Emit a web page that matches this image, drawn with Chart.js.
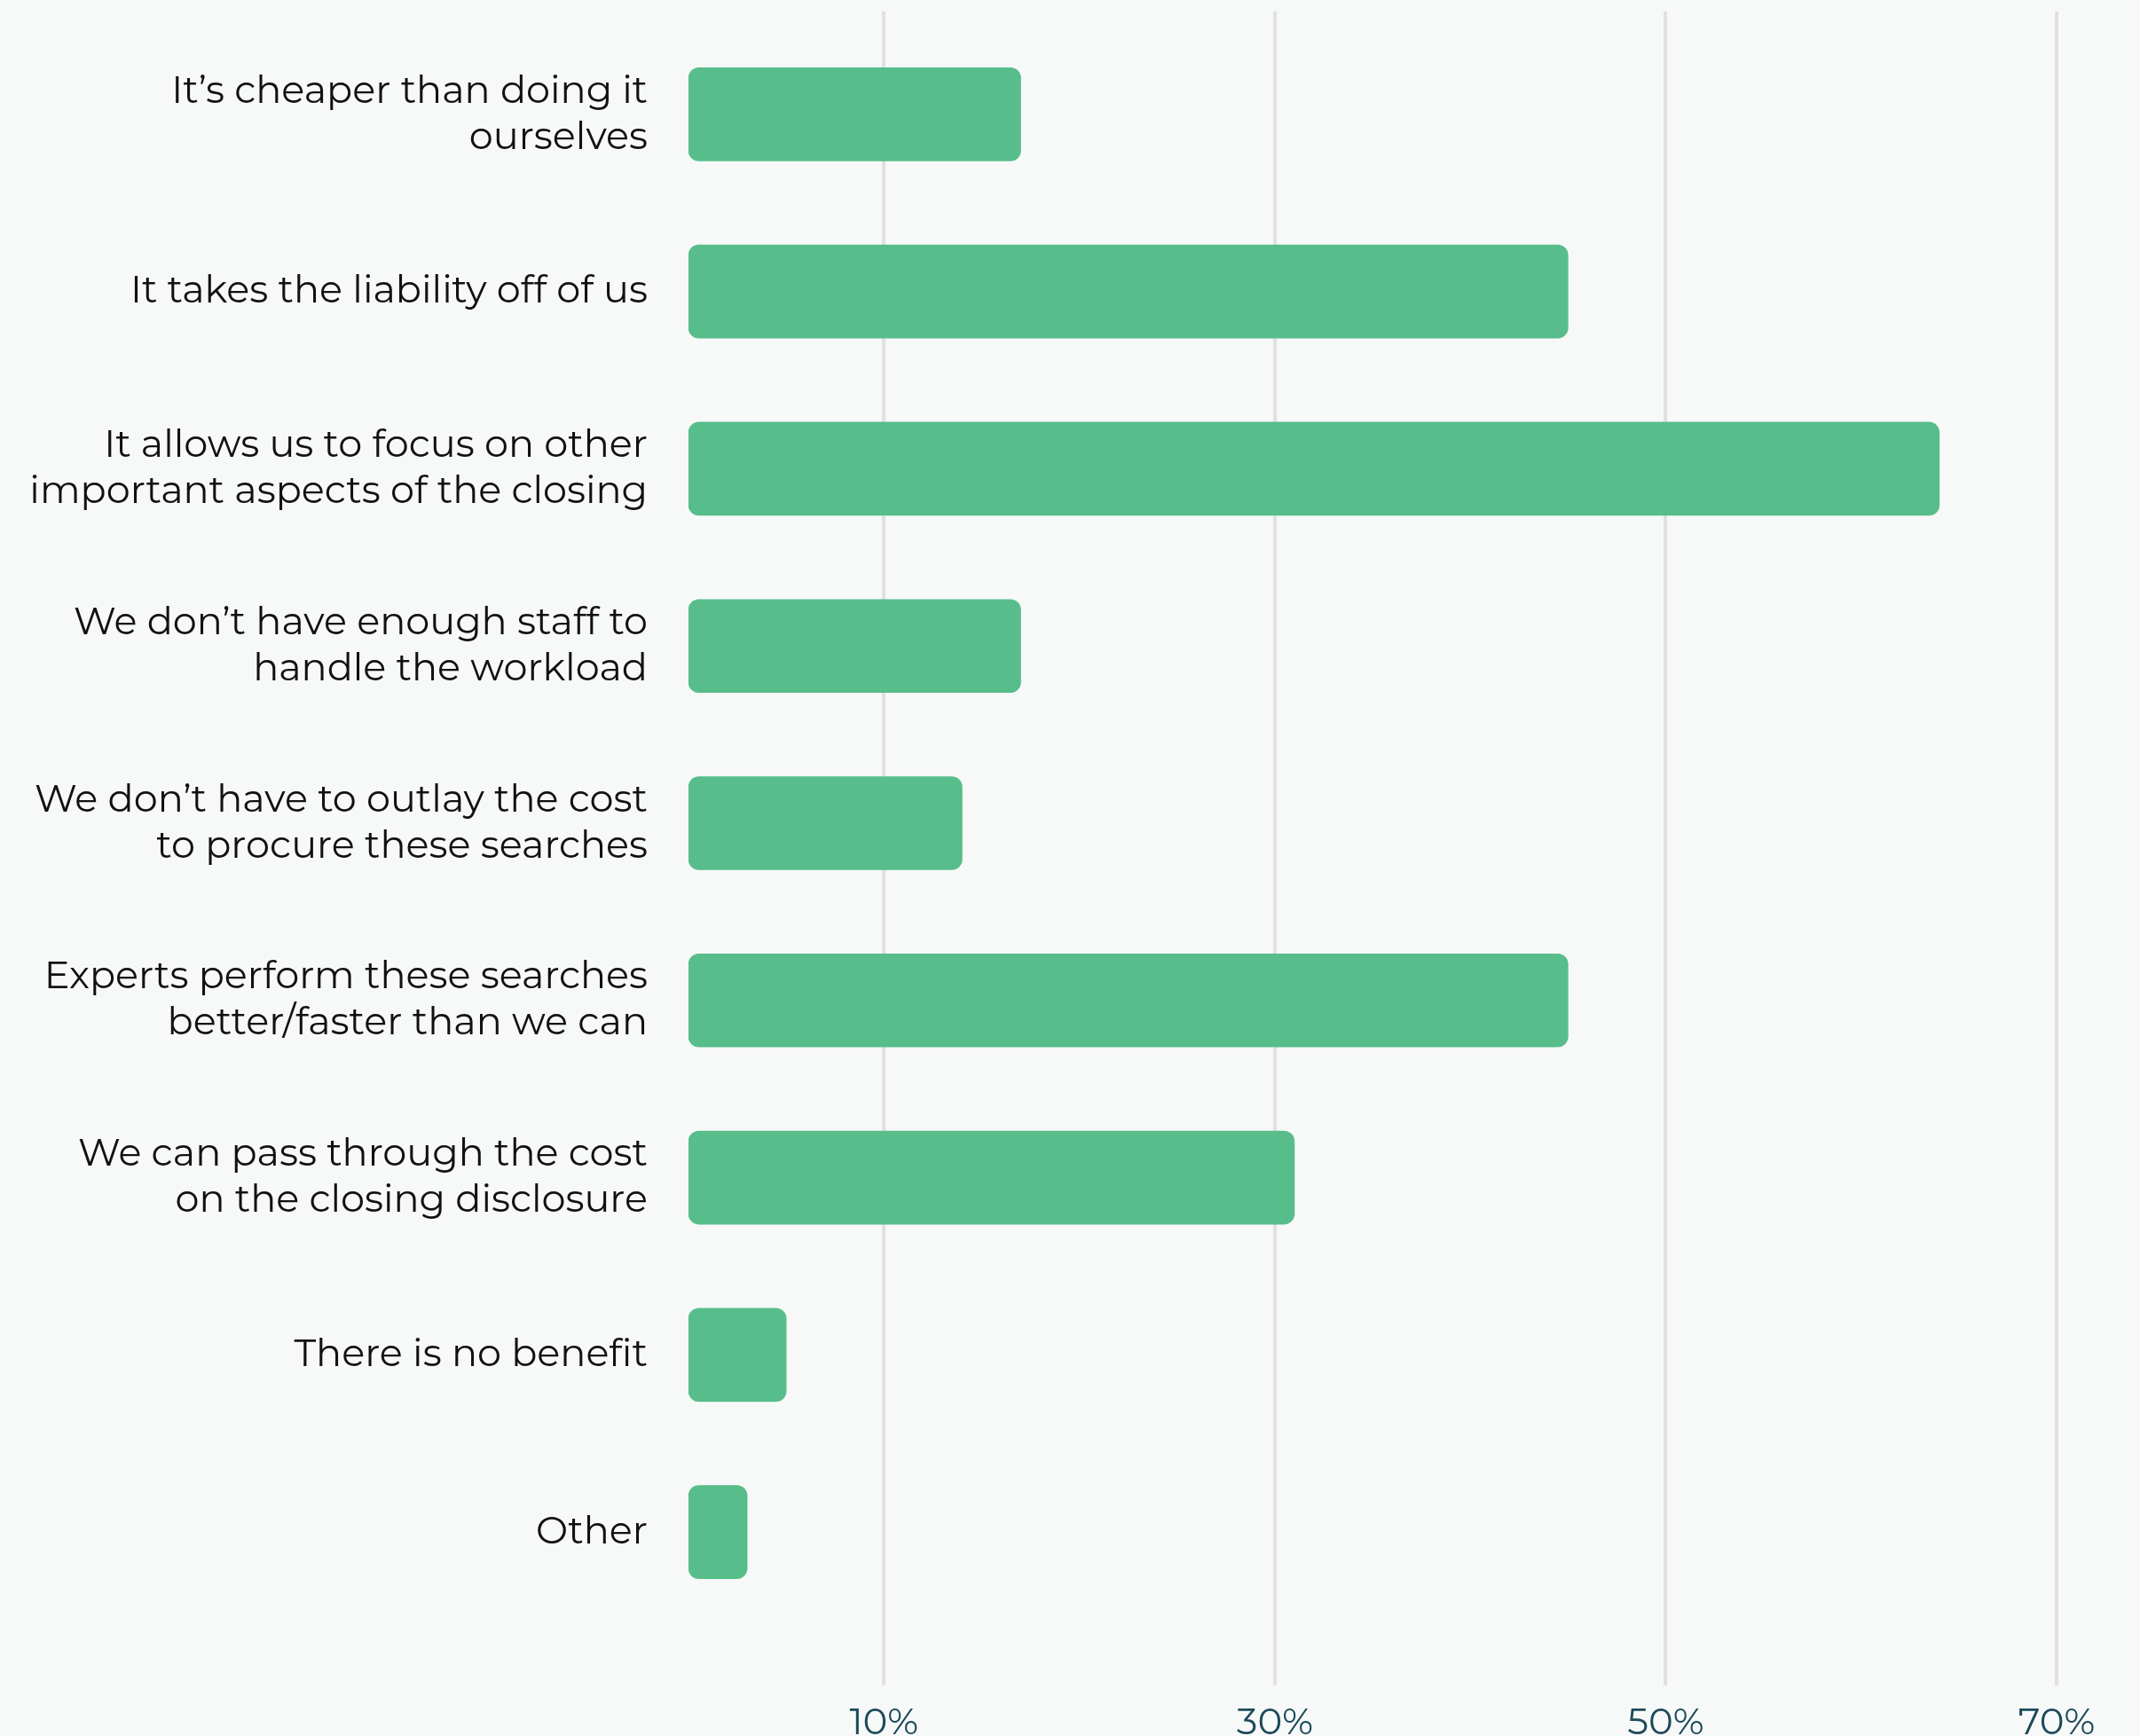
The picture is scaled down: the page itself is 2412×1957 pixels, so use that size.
<!DOCTYPE html>
<html>
<head>
<meta charset="utf-8">
<script src="https://cdn.jsdelivr.net/npm/chart.js@4"></script>
<style>
  html, body { margin: 0; padding: 0; background: #f7f9f8; }
  #wrap { width: 2412px; height: 1957px; }
</style>
</head>
<body>
<div id="wrap"><canvas id="benefitChart"></canvas></div>
<script>
// Survey answers (one bar each) and share of respondents in %
const reasons = [
  ["It\u2019s cheaper than doing it", "ourselves"],
  "It takes the liability off of us",
  ["It allows us to focus on other", "important aspects of the closing"],
  ["We don\u2019t have enough staff to", "handle the workload"],
  ["We don\u2019t have to outlay the cost", "to procure these searches"],
  ["Experts perform these searches", "better/faster than we can"],
  ["We can pass through the cost", "on the closing disclosure"],
  "There is no benefit",
  "Other"
];
const shares = [17, 45, 64, 17, 14, 45, 31, 5, 3];
const tickValues = [10, 30, 50, 70];

const gridColor = "#e0e1e0";
const setTicks = (axis) => {
  axis.ticks = tickValues.map(v => ({ value: v }));
};

const ctx = document.getElementById("benefitChart");

const chart = new Chart(ctx, {
  type: "bar",
  data: {
    labels: reasons,
    datasets: [{
      data: shares,
      backgroundColor: "#57bd8b",
      borderRadius: 12,
      borderSkipped: false,
      barThickness: 105
    }]
  },
  options: {
    indexAxis: "y",
    responsive: true,
    maintainAspectRatio: false,
    animation: false,
    layout: {
      padding: { top: 13, right: 94, bottom: 0, left: 0 }
    },
    plugins: {
      legend: { display: false },
      tooltip: { enabled: false }
    },
    scales: {
      x: {
        min: 0,
        max: 70,
        afterBuildTicks: setTicks,
        afterFit: (axis) => { axis.height = 130; },
        border: { display: false },
        grid: {
          color: gridColor,
          lineWidth: 4,
          tickLength: 73,
          tickColor: gridColor
        },
        ticks: {
          color: "#1d4a5b",
          padding: 17,
          font: { family: "Montserrat, 'Open Sans', sans-serif", size: 42 },
          callback: (v) => v + "%"
        }
      },
      // top stub so the grid lines run a little above the first bar
      xTop: {
        position: "top",
        min: 0,
        max: 70,
        afterBuildTicks: setTicks,
        afterFit: (axis) => { axis.height = 16; },
        border: { display: false },
        grid: {
          drawOnChartArea: false,
          lineWidth: 4,
          tickLength: 16,
          tickColor: gridColor
        },
        ticks: { display: false }
      },
      y: {
        afterFit: (axis) => {
          axis.width = 776;
          // keep the plot edges fixed regardless of label heights
          axis.paddingTop = 0;
          axis.paddingBottom = 0;
        },
        border: { display: false },
        grid: { display: false },
        ticks: {
          color: "#111111",
          padding: 38,
          font: { family: "Montserrat, 'Open Sans', sans-serif", size: 43, lineHeight: 1.21 }
        }
      }
    }
  }
});
</script>
</body>
</html>
